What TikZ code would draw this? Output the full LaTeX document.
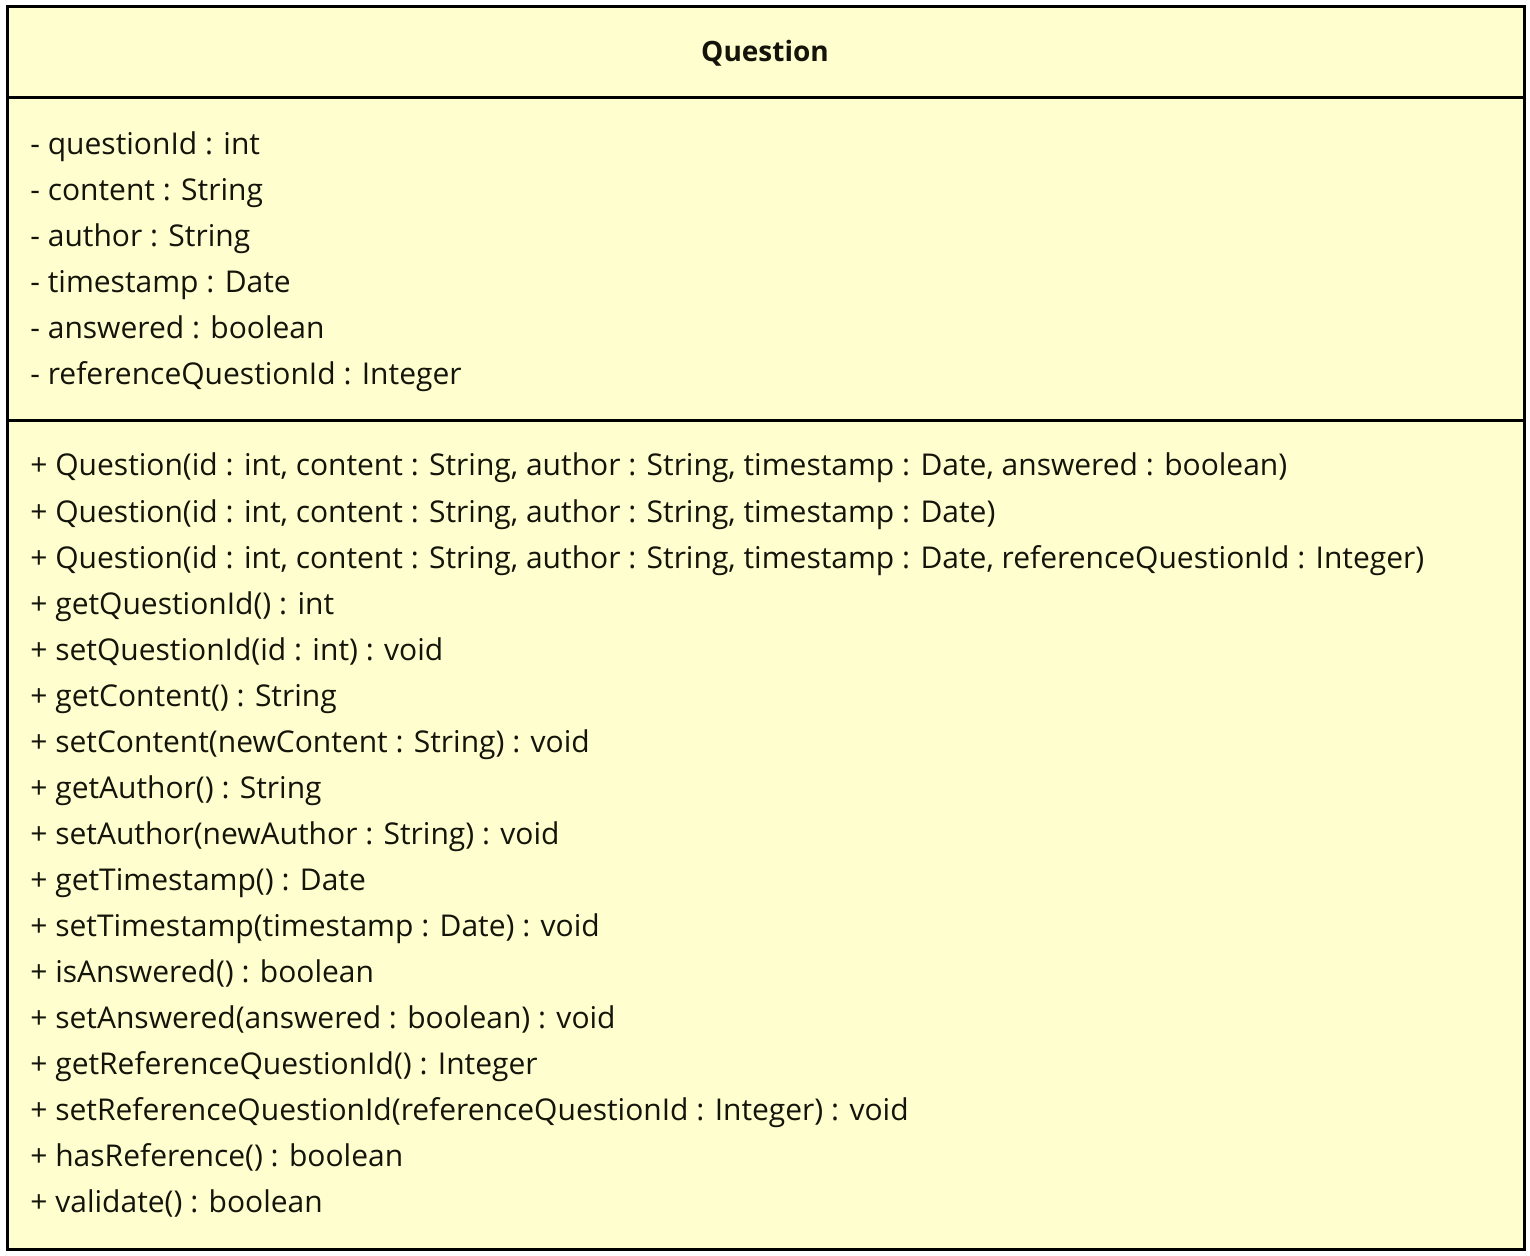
\documentclass[tikz,border=0pt]{standalone}
\usepackage{fontspec}
\setmainfont{Open Sans}
\definecolor{umlfill}{HTML}{FEFECE}
\definecolor{ink}{RGB}{20,20,10}

\begin{document}
\begin{tikzpicture}[
  x=0.5pt, y=-0.5pt,
  font=\fontsize{15}{17}\selectfont,
  every node/.style={inner sep=0pt, text=ink},
  member/.style={anchor=base west},
  title/.style={anchor=base, font=\fontsize{14}{16}\selectfont\bfseries},
  frame/.style={draw=black, line width=1.5pt, fill=umlfill},
  sep/.style={draw=black, line width=1.5pt},
]
\useasboundingbox (0,0) rectangle (1530,1256);

% ---------------- class box ----------------
\draw[frame] (7,7) rectangle (1524,1249);
\coordinate (hdl) at (7,98);   \coordinate (hdr) at (1524,98);
\coordinate (atl) at (7,421);  \coordinate (atr) at (1524,421);
\draw[sep] (hdl) -- (hdr);
\draw[sep] (atl) -- (atr);

\node[title] (cname) at (765,62) {Question};

% attributes
\foreach \t [count=\i] in {
  {- questionId : int},
  {- content : String},
  {- author : String},
  {- timestamp : Date},
  {- answered : boolean},
  {- referenceQuestionId : Integer}} {
  \node[member] (attr\i) at (30,{155+46*(\i-1)}) {\t};
}

% operations
\foreach \t [count=\i] in {
  {+ Question(id : int, content : String, author : String, timestamp : Date, answered : boolean)},
  {+ Question(id : int, content : String, author : String, timestamp : Date)},
  {+ Question(id : int, content : String, author : String, timestamp : Date, referenceQuestionId : Integer)},
  {+ getQuestionId() : int},
  {+ setQuestionId(id : int) : void},
  {+ getContent() : String},
  {+ setContent(newContent : String) : void},
  {+ getAuthor() : String},
  {+ setAuthor(newAuthor : String) : void},
  {+ getTimestamp() : Date},
  {+ setTimestamp(timestamp : Date) : void},
  {+ isAnswered() : boolean},
  {+ setAnswered(answered : boolean) : void},
  {+ getReferenceQuestionId() : Integer},
  {+ setReferenceQuestionId(referenceQuestionId : Integer) : void},
  {+ hasReference() : boolean},
  {+ validate() : boolean}} {
  \node[member] (op\i) at (30,{476+46.06*(\i-1)}) {\t};
}

\end{tikzpicture}
\end{document}
